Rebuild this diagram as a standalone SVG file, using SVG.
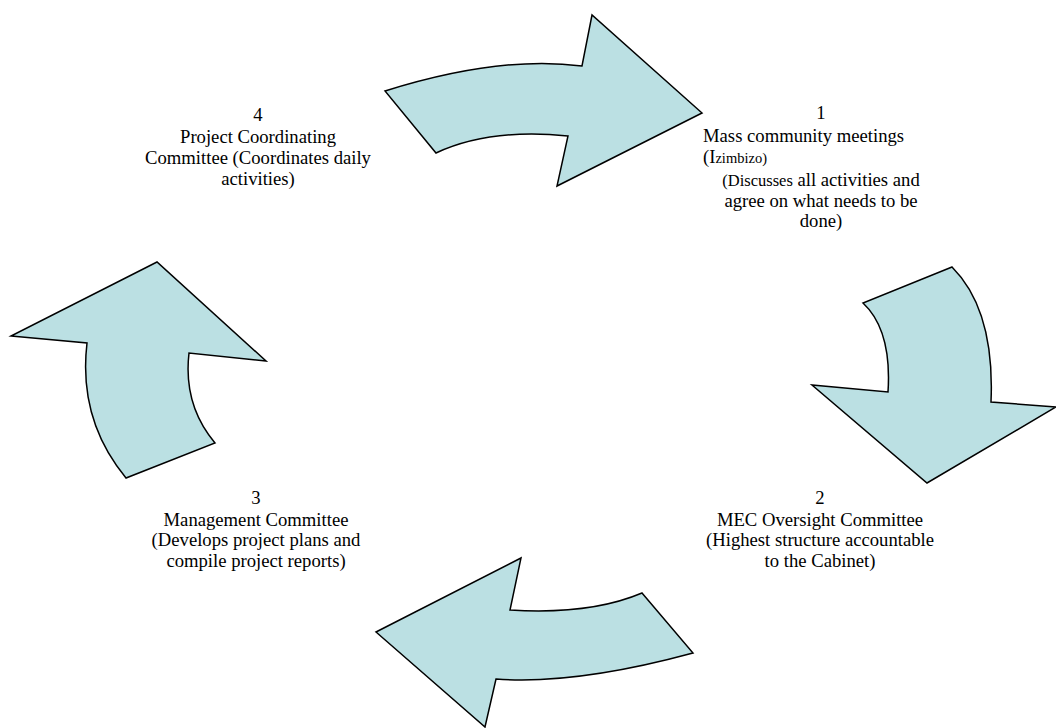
<svg xmlns="http://www.w3.org/2000/svg" width="1056" height="728" viewBox="0 0 1056 728">
<style>
.arrow{fill:#BBE0E3;stroke:#000;stroke-width:1.5;stroke-linejoin:miter}
text{font-family:'Liberation Serif','Times New Roman','DejaVu Serif',serif;font-size:18.67px;fill:#000}
.c{text-anchor:middle}
</style>
<rect width="1056" height="728" fill="#fff"/>
<g id="connectors">
<path id="arrow-1-2" class="arrow" d="M385,91 Q500,55 582,66 L592,15 L702,113 L557,186 L568,136 Q490,128 436,153 Z"/>
<path id="arrow-2-3" class="arrow" d="M952,267 L863,303 Q892,330 888,392 L812,385 L927,483 L1056,407 L991,402 Q995,310 952,267 Z"/>
<path id="arrow-3-4" class="arrow" d="M642,593 L693,653 Q575,685 496,679 L485,727 L376,632 L521,558 L510,610 Q590,615 642,593 Z"/>
<path id="arrow-4-1" class="arrow" d="M157,262 L11,336 L87,343 Q78,420 126,478 L215,443 Q183,405 189,353 L266,361 Z"/>
</g>
<g id="node-1" font-family="'Liberation Serif', 'Times New Roman', serif">
<text class="c" x="821" y="119">1</text>
<text x="703" y="141.5">Mass community meetings</text>
<text x="703" y="162.5">(I<tspan font-size="14.5px">zimbizo)</tspan></text>
<text class="c" x="821" y="185.5"><tspan font-size="16.5px">(Discusses</tspan> all activities and</text>
<text class="c" x="821" y="206.5">agree on what needs to be</text>
<text class="c" x="821" y="226.5">done)</text>
</g>
<g id="node-2" font-family="'Liberation Serif', 'Times New Roman', serif">
<text class="c" x="820" y="504">2</text>
<text class="c" x="820" y="525.5">MEC Oversight Committee</text>
<text class="c" x="820" y="546">(Highest structure accountable</text>
<text class="c" x="820" y="566.5">to the Cabinet)</text>
</g>
<g id="node-3" font-family="'Liberation Serif', 'Times New Roman', serif">
<text class="c" x="256" y="504">3</text>
<text class="c" x="256" y="525.5">Management Committee</text>
<text class="c" x="256" y="546">(Develops project plans and</text>
<text class="c" x="256" y="566.5">compile project reports)</text>
</g>
<g id="node-4" font-family="'Liberation Serif', 'Times New Roman', serif">
<text class="c" x="258" y="121">4</text>
<text class="c" x="258" y="143">Project Coordinating</text>
<text class="c" x="258" y="164">Committee (Coordinates daily</text>
<text class="c" x="258" y="184.5">activities)</text>
</g>
</svg>
